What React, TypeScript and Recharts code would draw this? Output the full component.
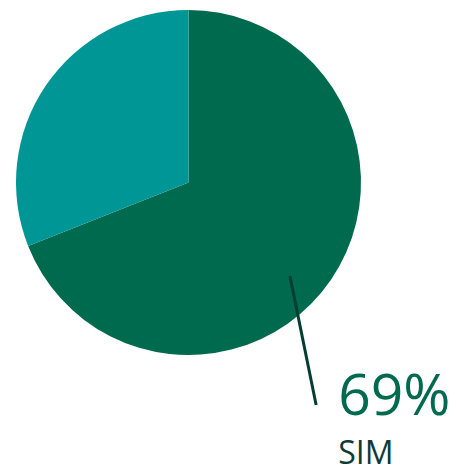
import React from 'react';
import { PieChart, Pie, Cell } from 'recharts';

const categories = ['SIM', 'NÃO'];
const values = [69, 31];
const colors = ['#006A4E', '#009695'];

const data = categories.map((name, i) => ({ name, value: values[i] }));

const RADIAN = Math.PI / 180;

const renderLabel = ({ cx, cy, midAngle, outerRadius, index, percent, name }: any) => {
  if (index !== 0) return null;
  const a = (midAngle - 8.5) * RADIAN;
  const r0 = outerRadius * 0.8;
  const x1 = cx + r0 * Math.cos(-a);
  const y1 = cy + r0 * Math.sin(-a);
  const x2 = cx + outerRadius * 0.74;
  const y2 = cy + outerRadius * 1.29;
  const tx = x2 + 22;
  return (
    <g>
      <line x1={x1} y1={y1} x2={x2} y2={y2} stroke="#003D33" strokeWidth={3} />
      <text x={tx} y={y2 + 10} fill="#006A4E" fontSize={57} fontFamily="'Open Sans', sans-serif" textAnchor="start">
        {`${(percent * 100).toFixed(0)}%`}
      </text>
      <text x={tx} y={y2 + 59} fill="#0E3B37" fontSize={32} fontFamily="'Open Sans', sans-serif" textAnchor="start">
        {name}
      </text>
    </g>
  );
};

export default function App() {
  return (
    <div style={{ position: 'absolute', left: 0, top: 0, width: 456, height: 469, background: '#fff' }}>
      <PieChart width={456} height={469} margin={{ top: 0, right: 0, bottom: 0, left: 0 }}>
        <Pie
          data={data}
          dataKey="value"
          cx={188.5}
          cy={182.5}
          outerRadius={172.5}
          startAngle={90}
          endAngle={-270}
          stroke="none"
          labelLine={false}
          label={renderLabel}
          isAnimationActive={false}
        >
          {data.map((entry, index) => (
            <Cell key={`cell-${index}`} fill={colors[index]} />
          ))}
        </Pie>
      </PieChart>
    </div>
  );
}
